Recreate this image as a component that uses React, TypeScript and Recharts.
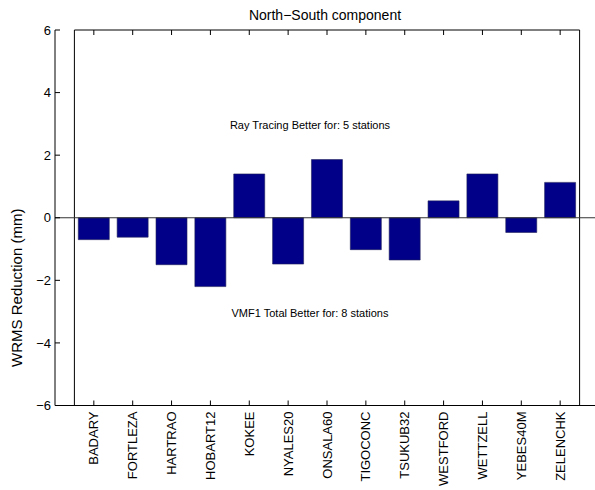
import React from 'react';
import { ComposedChart, Bar, XAxis, YAxis, ReferenceLine, ReferenceArea } from 'recharts';

const stations = [
  'BADARY', 'FORTLEZA', 'HARTRAO', 'HOBART12', 'KOKEE', 'NYALES20', 'ONSALA60',
  'TIGOCONC', 'TSUKUB32', 'WESTFORD', 'WETTZELL', 'YEBES40M', 'ZELENCHK',
];
const reduction = [-0.7, -0.62, -1.5, -2.2, 1.4, -1.48, 1.86, -1.02, -1.35, 0.54, 1.4, -0.47, 1.13];
const yTicks = [-6, -4, -2, 0, 2, 4, 6];

const data = stations.map((name, i) => ({ name, value: reduction[i] }));

const FONT = '"Liberation Sans", Arial, sans-serif';
const fmt = (v: number) => (v < 0 ? `\u2212${Math.abs(v)}` : `${v}`);

const CHART_W = 595;
const CHART_H = 490;
const TOP_H = 30;
const BOTTOM_H = 84.5;
const PLOT_H = CHART_H - TOP_H - BOTTOM_H;

// bottom tick also draws the matching inward tick on the top frame
function BottomTick(props: any) {
  const { x, y, payload } = props;
  const top = y - PLOT_H;
  return (
    <g>
      <line x1={x} y1={y} x2={x} y2={y - 5} stroke="#000" strokeWidth={1} />
      <line x1={x} y1={top} x2={x} y2={top + 5} stroke="#000" strokeWidth={1} />
      <text
        x={x}
        y={y + 6}
        transform={`rotate(-90 ${x} ${y + 6})`}
        textAnchor="end"
        dominantBaseline="central"
        fontSize={13}
        fontFamily={FONT}
        fill="#000"
      >
        {payload.value}
      </text>
    </g>
  );
}

function LeftTick(props: any) {
  const { x, y, payload } = props;
  return (
    <g>
      <line x1={x} y1={y} x2={x + 5} y2={y} stroke="#000" strokeWidth={1} />
      <text x={x - 4} y={y} dy="0.36em" textAnchor="end" fontSize={13} fontFamily={FONT} fill="#000">
        {fmt(payload.value)}
      </text>
    </g>
  );
}

function AnnoLabel(props: any) {
  const { viewBox, text } = props;
  const cx = viewBox.x + viewBox.width / 2 - 15;
  return (
    <text x={cx} y={viewBox.y} dy="0.36em" textAnchor="middle" fontSize={11} fontFamily={FONT} fill="#000">
      {text}
    </text>
  );
}

export default function App() {
  return (
    <div
      style={{
        position: 'absolute',
        left: 0,
        top: 0,
        width: CHART_W,
        height: CHART_H,
        background: '#fff',
        fontFamily: FONT,
      }}
    >
      <ComposedChart
        width={CHART_W}
        height={CHART_H}
        data={data}
        margin={{ top: 0, right: 0, bottom: 0, left: 0 }}
        barCategoryGap="10%"
      >
        <XAxis
          dataKey="name"
          height={BOTTOM_H}
          interval={0}
          padding={{ left: 19.4, right: 15.4 }}
          axisLine={{ stroke: '#000', strokeWidth: 1 }}
          tickLine={false}
          tickSize={0}
          tickMargin={0}
          tick={<BottomTick />}
        />
        <XAxis
          xAxisId="top"
          dataKey="name"
          orientation="top"
          height={TOP_H}
          interval={0}
          padding={{ left: 19.4, right: 15.4 }}
          axisLine={false}
          tickLine={false}
          tick={false}
          label={{
            value: 'North\u2212South component',
            position: 'center',
            style: { fontSize: 14, fontFamily: FONT, fill: '#000' },
          }}
        />
        <YAxis
          width={55}
          domain={[-6, 6]}
          ticks={yTicks}
          type="number"
          axisLine={{ stroke: '#000', strokeWidth: 1 }}
          tickLine={false}
          tickSize={0}
          tickMargin={0}
          tick={<LeftTick />}
          label={{
            value: 'WRMS Reduction (mm)',
            angle: -90,
            position: 'insideLeft',
            dx: 12,
            dy: 70,
            style: { fontSize: 15, fontFamily: FONT, fill: '#000', textAnchor: 'middle' },
          }}
        />
        <ReferenceArea y1={-6} y2={6} fill="none" stroke="#000" strokeWidth={1} ifOverflow="visible" />
        <ReferenceLine y={0} stroke="#333" strokeWidth={1} />
        <ReferenceLine
          y={2.97}
          stroke="none"
          label={<AnnoLabel text="Ray Tracing Better for: 5 stations" />}
        />
        <ReferenceLine
          y={-3.03}
          stroke="none"
          label={<AnnoLabel text="VMF1 Total Better for: 8 stations" />}
        />
        <Bar dataKey="value" fill="#000088" stroke="#22225a" strokeWidth={0.6} isAnimationActive={false} />
      </ComposedChart>
    </div>
  );
}
